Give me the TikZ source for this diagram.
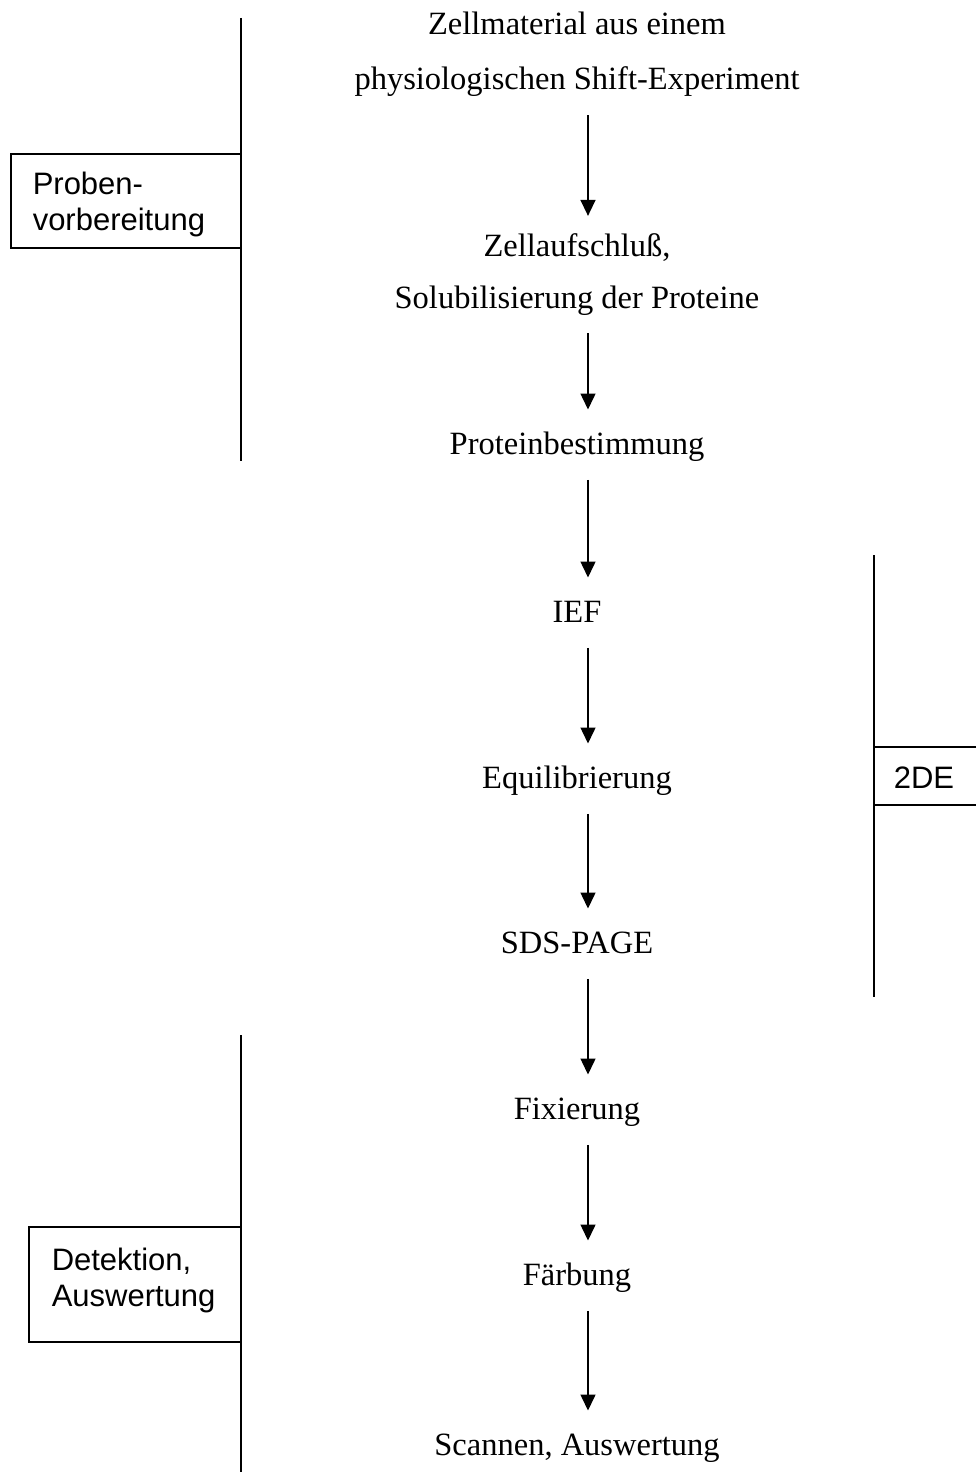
\documentclass[tikz,border=0pt]{standalone}
\usepackage{fontspec}
\setmainfont{Liberation Serif}
\setsansfont{Liberation Sans}
\usetikzlibrary{arrows.meta}

\begin{document}
\begin{tikzpicture}[x=0.4pt,y=-0.4pt,line width=0.6pt,
  stepnode/.style={inner xsep=0pt,inner ysep=7pt,anchor=base,align=center,
    font=\fontsize{13}{22}\selectfont},
  oneline/.style={stepnode,text height=10.5pt,text depth=3pt},
  phase/.style={inner sep=0pt,anchor=base west,align=left,
    font=\sffamily\fontsize{12.4}{14.4}\selectfont},
  flow/.style={-{Triangle[length=6.4pt,width=6pt]}}]

\useasboundingbox (0,0) rectangle (976,1472);

\node[stepnode] (zell) at (577,90) {Zellmaterial aus einem\\physiologischen Shift-Experiment};
\node[stepnode,font=\fontsize{13}{20.4}\selectfont] (aufschluss) at (577,308) {Zellaufschluß,\\Solubilisierung der Proteine};
\node[oneline] (protein) at (577,454) {Proteinbestimmung};
\node[oneline] (ief) at (577,622) {IEF};
\node[oneline] (equi) at (577,788) {Equilibrierung};
\node[oneline] (sds) at (577,953) {SDS-PAGE};
\node[oneline] (fix) at (577,1119) {Fixierung};
\node[oneline] (faerb) at (577,1285) {Färbung};
\node[oneline] (scan) at (577,1455) {Scannen, Auswertung};

\foreach \a/\b in {zell/aufschluss,aufschluss/protein,protein/ief,ief/equi,
  equi/sds,sds/fix,fix/faerb,faerb/scan}
  \draw[flow] ([xshift=4.4pt]\a.south) -- ([xshift=4.4pt]\b.north);

% Probenvorbereitung
\draw (241,18) -- (241,461);
\draw (11,154) rectangle (241,248);
\node[phase] (proben) at (32,230) {Proben-\\vorbereitung};

% 2DE
\draw (874,555) -- (874,997);
\draw (976,747) -- (874,747) -- (874,805) -- (976,805);
\node[phase] (zweide) at (893,788) {2DE};

% Detektion, Auswertung
\draw (241,1035) -- (241,1472);
\draw (29,1227) rectangle (241,1342);
\node[phase] (detektion) at (51,1306) {Detektion,\\Auswertung};

\end{tikzpicture}
\end{document}
